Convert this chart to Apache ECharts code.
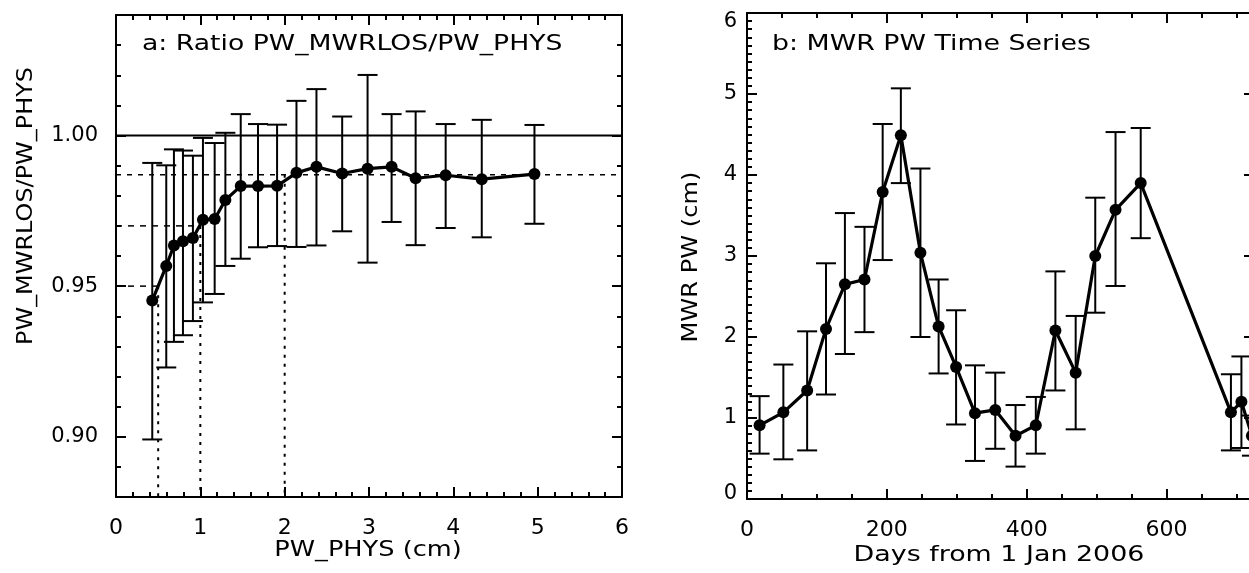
<!DOCTYPE html>
<html>
<head>
<meta charset="utf-8">
<script src="https://cdn.jsdelivr.net/npm/echarts@6/dist/echarts.min.js"></script>
<style>
html,body{margin:0;padding:0;background:#fff;}
#chart{width:1249px;height:573px;}
</style>
</head>
<body>
<div id="chart"></div>
<script>
// ---------- Panel a: ratio vs PW_PHYS ----------
const ratioPW   = [0.430, 0.596, 0.687, 0.794, 0.912, 1.031, 1.170, 1.297, 1.479, 1.684, 1.910, 2.140, 2.377, 2.682, 2.983, 3.268, 3.553, 3.909, 4.337, 4.962];
const ratioMean = [0.9452, 0.9567, 0.9635, 0.9649, 0.9660, 0.9720, 0.9723, 0.9786, 0.9832, 0.9832, 0.9833, 0.9876, 0.9896, 0.9874, 0.9890, 0.9896, 0.9858, 0.9868, 0.9855, 0.9872];
const ratioHi   = [0.9909, 0.9901, 0.9954, 0.9950, 0.9933, 0.9992, 0.9975, 1.0009, 1.0071, 1.0038, 1.0036, 1.0115, 1.0154, 1.0063, 1.0201, 1.0071, 1.0080, 1.0038, 1.0052, 1.0035];
const ratioLo   = [0.8991, 0.9230, 0.9315, 0.9337, 0.9384, 0.9446, 0.9474, 0.9567, 0.9591, 0.9629, 0.9633, 0.9630, 0.9635, 0.9682, 0.9578, 0.9713, 0.9636, 0.9693, 0.9662, 0.9707];
// reference guide lines (value space)
const refUnity   = 1.00;
const refPlateau = 0.987;
const refLevels  = [0.95, 0.97];   // dashed horizontal levels
const refCuts    = [0.5, 1.0];     // PW_PHYS where those levels are reached
const refPlateauCut = 2.0;
// axis ranges and tick labels
const aXRange = [0, 6];
const aYRange = [0.88, 1.04];
const aXTicks = [0, 1, 2, 3, 4, 5, 6];
const aYTicks = [0.90, 0.95, 1.00];

// ---------- Panel b: MWR PW time series ----------
const days  = [18, 52, 86, 113, 140, 168, 194, 220, 248, 274, 299, 326, 355, 384, 413, 441, 470, 498, 527, 563, 692, 707, 722];
const pwVal = [0.91, 1.07, 1.34, 2.10, 2.65, 2.71, 3.79, 4.49, 3.04, 2.13, 1.63, 1.06, 1.10, 0.78, 0.91, 2.08, 1.56, 3.00, 3.57, 3.90, 1.07, 1.20, 0.78];
const pwHi  = [1.27, 1.66, 2.07, 2.91, 3.53, 3.36, 4.63, 5.07, 4.08, 2.71, 2.33, 1.65, 1.56, 1.16, 1.26, 2.81, 2.26, 3.72, 4.53, 4.58, 1.54, 1.76, 1.03];
const pwLo  = [0.56, 0.49, 0.60, 1.29, 1.79, 2.06, 2.95, 3.90, 2.00, 1.55, 0.92, 0.47, 0.62, 0.40, 0.56, 1.34, 0.86, 2.30, 2.63, 3.22, 0.60, 0.63, 0.535];
const bXRange = [0, 725];
const bYRange = [0, 6];
const bXTicks = [0, 200, 400, 600];
const bYTicks = [0, 1, 2, 3, 4, 5, 6];

// ---------- helpers ----------
const INK = '#000';
const FONT = 'DejaVu Sans';
function seq(a, b, step) {
  const n = Math.floor((b - a) / step + 1e-6);
  const out = [];
  for (let i = 0; i <= n; i++) out.push(+(a + i * step).toFixed(6));
  return out;
}
function axisGroup(dim, grid, range, majors, minors, labelOpt) {
  const sides = dim === 'x' ? ['bottom', 'top'] : ['left', 'right'];
  const out = [];
  sides.forEach((p, s) => {
    const base = {type: 'value', gridIndex: grid, min: range[0], max: range[1], position: p,
      splitLine: {show: false}, axisPointer: {show: false}};
    out.push(Object.assign({}, base, {
      axisLine: {show: true, onZero: false, lineStyle: {color: INK, width: 2}},
      axisTick: {show: true, inside: true, length: 10, customValues: majors, lineStyle: {color: INK, width: 2}},
      axisLabel: s === 0 ? Object.assign({show: true, customValues: majors, color: INK,
        fontFamily: FONT, fontSize: 21}, labelOpt) : {show: false}
    }));
    out.push(Object.assign({}, base, {
      axisLine: {show: false, onZero: false},
      axisTick: {show: true, inside: true, length: 5, customValues: minors, lineStyle: {color: INK, width: 2}},
      axisLabel: {show: false}
    }));
  });
  return out;
}
function errorBars(xIdx, yIdx, xs, lo, hi) {
  return {
    type: 'custom', xAxisIndex: xIdx, yAxisIndex: yIdx, z: 3, silent: true,
    data: xs.map((x, i) => [x, lo[i], hi[i]]),
    encode: {x: 0, y: [1, 2]},
    renderItem: function (params, api) {
      const x = api.value(0);
      const a = api.coord([x, api.value(1)]);
      const b = api.coord([x, api.value(2)]);
      const hw = 10;
      const st = {stroke: INK, lineWidth: 2, fill: null};
      return {type: 'group', children: [
        {type: 'line', shape: {x1: a[0], y1: a[1], x2: b[0], y2: b[1]}, style: st},
        {type: 'line', shape: {x1: b[0] - hw, y1: b[1], x2: b[0] + hw, y2: b[1]}, style: st},
        {type: 'line', shape: {x1: a[0] - hw, y1: a[1], x2: a[0] + hw, y2: a[1]}, style: st}
      ]};
    }
  };
}
function dotLine(xIdx, yIdx, xs, ys) {
  return {
    type: 'line', xAxisIndex: xIdx, yAxisIndex: yIdx, z: 4, silent: true,
    data: xs.map((x, i) => [x, ys[i]]),
    symbol: 'circle', symbolSize: 12, showSymbol: true,
    itemStyle: {color: INK, borderWidth: 0},
    lineStyle: {color: INK, width: 3.2}
  };
}
function guide(pts, dash, width) {
  return {
    type: 'line', xAxisIndex: 0, yAxisIndex: 0, z: 2, silent: true, symbol: 'none',
    data: pts, lineStyle: {color: INK, width: width || 1.5, type: dash}
  };
}

const xAxes = [].concat(
  axisGroup('x', 0, aXRange, aXTicks, seq(0, 6, 0.2), {margin: 20, fontSize: 22, formatter: v => String(Math.round(v))}),
  axisGroup('x', 1, bXRange, bXTicks, seq(0, 725, 50), {margin: 20, fontSize: 22, formatter: v => String(Math.round(v))})
);
const yAxes = [].concat(
  axisGroup('y', 0, aYRange, aYTicks, seq(0.88, 1.04, 0.01), {margin: 18, formatter: v => v.toFixed(2)}),
  axisGroup('y', 1, bYRange, bYTicks, seq(0, 6, 0.1), {
    margin: 10,
    formatter: function (v) {
      const n = Math.round(v);
      if (n === bYRange[1]) return '{top|' + n + '}';
      if (n === bYRange[0]) return '{bot|' + n + '}';
      return String(n);
    },
    rich: {
      top: {fontFamily: FONT, fontSize: 21, color: INK, padding: [18, 0, 0, 0]},
      bot: {fontFamily: FONT, fontSize: 21, color: INK, padding: [0, 0, 10, 0]}
    }
  })
);

const series = [
  guide([[aXRange[0], refUnity], [aXRange[1], refUnity]], 'solid', 2),
  guide([[aXRange[0], refPlateau], [aXRange[1], refPlateau]], [5, 6], 1.5),
  guide([[refPlateauCut, refPlateau], [refPlateauCut, aYRange[0]]], [3, 6], 2),
  guide([[aXRange[0], refLevels[0]], [refCuts[0], refLevels[0]]], [6, 6], 1.5),
  guide([[refCuts[0], refLevels[0]], [refCuts[0], aYRange[0]]], [3, 6], 2),
  guide([[aXRange[0], refLevels[1]], [refCuts[1], refLevels[1]]], [6, 6], 1.5),
  guide([[refCuts[1], refLevels[1]], [refCuts[1], aYRange[0]]], [3, 6], 2),
  errorBars(0, 0, ratioPW, ratioLo, ratioHi),
  dotLine(0, 0, ratioPW, ratioMean),
  errorBars(4, 4, days, pwLo, pwHi),
  dotLine(4, 4, days, pwVal)
];

const txt = (text, x, y, opts, align) => Object.assign({
  type: 'text', x: x, y: y, silent: true,
  style: {text: text, font: '21px "DejaVu Sans"', fill: INK, align: align || 'left', verticalAlign: 'middle'}
}, opts || {});

const option = {
  animation: false,
  backgroundColor: '#fff',
  textStyle: {fontFamily: FONT, color: INK},
  grid: [
    {left: 116, top: 15, width: 506, height: 482, containLabel: false, outerBoundsMode: 'none'},
    {left: 747, top: 13, width: 507, height: 486, containLabel: false, outerBoundsMode: 'none'}
  ],
  xAxis: xAxes,
  yAxis: yAxes,
  series: series,
  graphic: [
    txt('a: Ratio PW_MWRLOS/PW_PHYS', 142, 45, {scaleX: 1.27}),
    txt('b: MWR PW Time Series', 772, 45, {scaleX: 1.276}),
    txt('PW_PHYS (cm)', 368, 551, {scaleX: 1.22}, 'center'),
    txt('Days from 1 Jan 2006', 999, 556, {scaleX: 1.28}, 'center'),
    txt('PW_MWRLOS/PW_PHYS', 27, 206, {scaleX: 1.14, rotation: Math.PI / 2}, 'center'),
    txt('MWR PW (cm)', 692, 257, {scaleX: 1.15, rotation: Math.PI / 2}, 'center')
  ]
};

const chart = echarts.init(document.getElementById('chart'), null, {renderer: 'canvas'});
chart.setOption(option);
</script>
</body>
</html>
